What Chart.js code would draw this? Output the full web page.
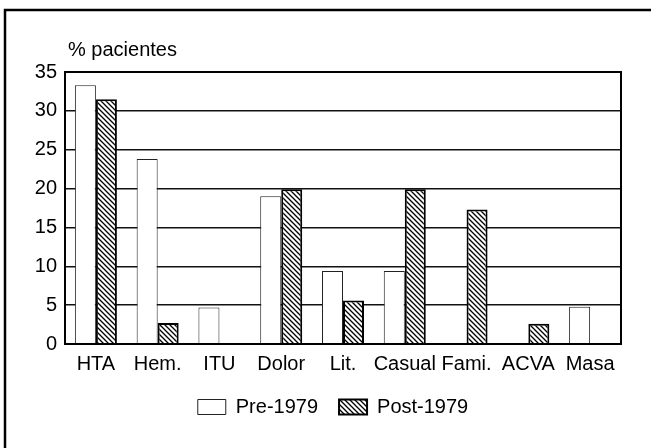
<!DOCTYPE html>
<html>
<head>
<meta charset="utf-8">
<script src="https://cdn.jsdelivr.net/npm/chart.js@4/dist/chart.umd.min.js"></script>
<style>
  html, body { margin: 0; padding: 0; background: #fff; }
  #wrap { width: 651px; height: 448px; }
</style>
</head>
<body>
<div id="wrap"><canvas id="chart" width="651" height="448"></canvas></div>
<script>
const categories = ['HTA', 'Hem.', 'ITU', 'Dolor', 'Lit.', 'Casual', 'Fami.', 'ACVA', 'Masa'];
const pre1979 = [33.3, 23.8, 4.7, 19.0, 9.4, 9.4, 0, 0, 4.8];
const post1979 = [31.5, 2.7, 0, 19.9, 5.6, 19.9, 17.3, 2.6, 0];
const yTicks = [0, 5, 10, 15, 20, 25, 30, 35];

const FONT = 'Liberation Sans, Arial, sans-serif';
const ctx = document.getElementById('chart').getContext('2d');

// diagonal "\\" hatch for the post-1979 bars
function hatch() {
  const s = 5;
  const c = document.createElement('canvas');
  c.width = s; c.height = s;
  const g = c.getContext('2d');
  g.fillStyle = '#fff';
  g.fillRect(0, 0, s, s);
  g.strokeStyle = '#000';
  g.lineWidth = 1.3;
  g.beginPath();
  g.moveTo(-1, -1); g.lineTo(s + 1, s + 1);
  g.moveTo(-1, s - 1); g.lineTo(1, s + 1);
  g.moveTo(s - 1, -1); g.lineTo(s + 1, 1);
  g.stroke();
  return ctx.createPattern(c, 'repeat');
}

const decor = {
  id: 'decor',
  afterLayout(chart) {
    // legend sits a little right of centre in the original
    chart.legend.left += 6;
    chart.legend.right += 6;
  },
  beforeDraw(chart) {
    const g = chart.ctx;
    g.save();
    g.fillStyle = '#fff';
    g.fillRect(0, 0, chart.width, chart.height);
    // outer frame (left and top)
    g.strokeStyle = '#000';
    g.lineWidth = 2.5;
    g.beginPath();
    g.moveTo(5, chart.height);
    g.lineTo(5, 10);
    g.lineTo(chart.width, 10);
    g.stroke();
    // axis caption
    g.fillStyle = '#000';
    g.font = '20px ' + FONT;
    g.textBaseline = 'middle';
    g.textAlign = 'left';
    g.fillText('% pacientes', chart.chartArea.left + 3, 50);
    g.restore();
  },
  afterDatasetsDraw(chart) {
    const a = chart.chartArea;
    const g = chart.ctx;
    g.save();
    g.strokeStyle = '#000';
    g.lineWidth = 2;
    g.strokeRect(a.left, a.top, a.right - a.left, a.bottom - a.top);
    g.restore();
  }
};

new Chart(ctx, {
  type: 'bar',
  data: {
    labels: categories,
    datasets: [
      {
        label: 'Pre-1979',
        data: pre1979,
        backgroundColor: '#fff',
        borderColor: '#222',
        borderWidth: 1,
        borderSkipped: 'start'
      },
      {
        label: 'Post-1979',
        data: post1979,
        backgroundColor: hatch(),
        borderColor: '#000',
        borderWidth: 2,
        borderSkipped: 'start'
      }
    ]
  },
  options: {
    responsive: false,
    animation: false,
    devicePixelRatio: 1,
    categoryPercentage: 0.68,
    barPercentage: 1.0,
    layout: { padding: { left: 33, right: 30, top: 72, bottom: 29 } },
    plugins: {
      legend: {
        position: 'bottom',
        maxHeight: 43,
        labels: {
          color: '#000',
          font: { family: FONT, size: 20 },
          boxWidth: 28,
          boxHeight: 15,
          padding: 21
        }
      },
      tooltip: { enabled: false }
    },
    scales: {
      x: {
        afterFit(scale) { scale.height = 32; },
        grid: { display: false, drawTicks: false },
        border: { display: true, color: '#000', width: 2 },
        ticks: { color: '#000', font: { family: FONT, size: 20 }, padding: 8, maxRotation: 0, autoSkip: false }
      },
      y: {
        min: 0,
        max: 35,
        afterFit(scale) { scale.width = 32; },
        afterBuildTicks(scale) { scale.ticks = yTicks.map(v => ({ value: v })); },
        grid: { color: '#111', lineWidth: 1.5, drawTicks: false },
        border: { display: true, color: '#000', width: 2 },
        ticks: { color: '#000', font: { family: FONT, size: 20 }, padding: 8 }
      }
    }
  },
  plugins: [decor]
});
</script>
</body>
</html>
